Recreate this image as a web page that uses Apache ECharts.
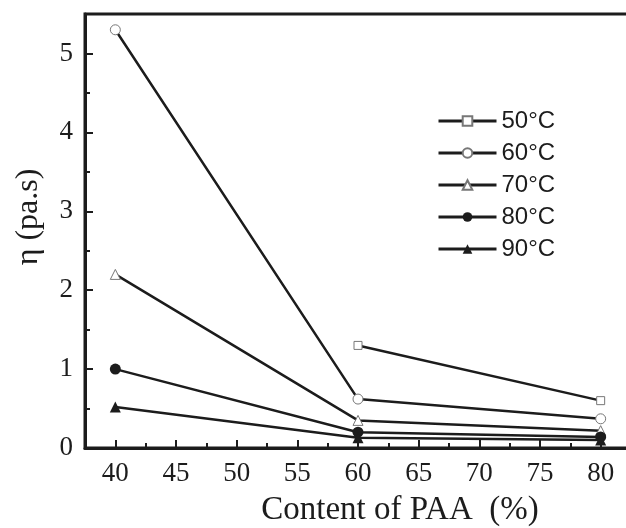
<!DOCTYPE html>
<html>
<head>
<meta charset="utf-8">
<script src="https://cdn.jsdelivr.net/npm/echarts@6/dist/echarts.min.js"></script>
<style>
  html, body { margin: 0; padding: 0; background: #fff; overflow: hidden; }
  #chart { width: 626px; height: 528px; }
</style>
</head>
<body>
<div id="chart"></div>
<script>
// PAA content (%) on the x axis
const paaContent = [40, 60, 80];
// Viscosity η (pa.s) per temperature
const visc50 = [null, 1.3, 0.6];
const visc60 = [5.3, 0.62, 0.37];
const visc70 = [2.2, 0.35, 0.22];
const visc80 = [1.0, 0.2, 0.14];
const visc90 = [0.52, 0.13, 0.1];
const seriesNames = ['50°C', '60°C', '70°C', '80°C', '90°C'];

// Tick positions
const xMajorTicks = [40, 45, 50, 55, 60, 65, 70, 75, 80];
const xMinorTicks = [42.5, 47.5, 52.5, 57.5, 62.5, 67.5, 72.5, 77.5];
const yMajorTicks = [0, 1, 2, 3, 4, 5];
const yMinorTicks = [0.5, 1.5, 2.5, 3.5, 4.5];

const INK = '#1c1c1c';
const serif = '"Liberation Serif", "Times New Roman", serif';
const sans = '"Liberation Sans", Arial, sans-serif';

const seriesValues = [visc50, visc60, visc70, visc80, visc90];
const markerStyles = [
  { symbol: 'rect', size: 8, fill: '#fff', border: '#777', bw: 1 },
  { symbol: 'circle', size: 10, fill: '#fff', border: '#777', bw: 1 },
  { symbol: 'triangle', size: 10, fill: '#fff', border: '#777', bw: 1 },
  { symbol: 'circle', size: 11, fill: INK, border: INK, bw: 0 },
  { symbol: 'triangle', size: 11, fill: INK, border: INK, bw: 0 }
];

function pairs(values) {
  return paaContent.map((x, i) => [x, values[i]]).filter(p => p[1] !== null);
}

const series = seriesNames.map((name, i) => ({
  name: name,
  type: 'line',
  xAxisIndex: 0,
  yAxisIndex: 0,
  data: pairs(seriesValues[i]),
  symbol: markerStyles[i].symbol,
  symbolSize: markerStyles[i].size,
  showAllSymbol: true,
  lineStyle: { color: INK, width: 2.5 },
  itemStyle: {
    color: markerStyles[i].fill,
    borderColor: markerStyles[i].border,
    borderWidth: markerStyles[i].bw
  },
  emphasis: { disabled: true },
  animation: false,
  z: 3
}));

const chart = echarts.init(document.getElementById('chart'), null, { renderer: 'canvas' });

chart.setOption({
  backgroundColor: '#fff',
  animation: false,
  grid: {
    left: 85, right: -5, top: 14, bottom: 80,
    outerBoundsMode: 'none', containLabel: false,
    show: true, borderColor: INK, borderWidth: 3, backgroundColor: 'transparent'
  },
  legend: {
    orient: 'vertical',
    left: 432,
    top: 104,
    itemWidth: 58,
    itemHeight: 12,
    itemGap: 8,
    data: seriesNames,
    lineStyle: { color: INK, width: 3 },
    textStyle: { fontFamily: sans, fontSize: 24, color: INK, lineHeight: 24 },
    selectedMode: false
  },
  xAxis: [
    {
      type: 'value', min: 37.5, max: 82.5, position: 'bottom',
      name: 'Content of PAA  (%)', nameLocation: 'middle', nameGap: 46,
      nameTextStyle: { fontFamily: serif, fontSize: 33, color: INK, padding: [0, 0, 0, 84] },
      axisLine: { show: true, lineStyle: { color: INK, width: 3 } },
      axisTick: { show: true, inside: true, length: 8, customValues: xMajorTicks, lineStyle: { color: INK, width: 2 } },
      axisLabel: { customValues: xMajorTicks, fontFamily: serif, fontSize: 27, color: INK, margin: 12 },
      splitLine: { show: false }
    },
    {
      type: 'value', min: 37.5, max: 82.5, position: 'bottom', gridIndex: 0,
      axisLine: { show: false },
      axisTick: { show: true, inside: true, length: 5, customValues: xMinorTicks, lineStyle: { color: INK, width: 2 } },
      axisLabel: { show: false },
      splitLine: { show: false }
    }
  ],
  yAxis: [
    {
      type: 'value', min: 0, max: 5.5, position: 'left',
      name: 'η (pa.s)', nameLocation: 'middle', nameGap: 40, nameRotate: 90,
      nameTextStyle: { fontFamily: serif, fontSize: 32, color: INK, padding: [0, 0, 0, 28] },
      axisLine: { show: true, lineStyle: { color: INK, width: 3 } },
      axisTick: { show: true, inside: true, length: 8, customValues: yMajorTicks, lineStyle: { color: INK, width: 2 } },
      axisLabel: { customValues: yMajorTicks, fontFamily: serif, fontSize: 27, color: INK, margin: 12 },
      splitLine: { show: false }
    },
    {
      type: 'value', min: 0, max: 5.5, position: 'left', gridIndex: 0,
      axisLine: { show: false },
      axisTick: { show: true, inside: true, length: 5, customValues: yMinorTicks, lineStyle: { color: INK, width: 2 } },
      axisLabel: { show: false },
      splitLine: { show: false }
    }
  ],
  series: series
});
</script>
</body>
</html>
